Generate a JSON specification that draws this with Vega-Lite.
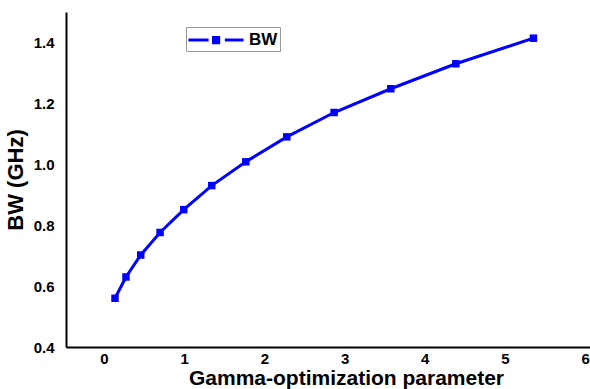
{
  "$schema": "https://vega.github.io/schema/vega-lite/v6.json",
  "width": 524,
  "height": 335,
  "autosize": {"type": "none"},
  "padding": {"left": 66, "top": 12, "right": 0, "bottom": 42},
  "background": "white",
  "config": {
    "view": {"stroke": null},
    "font": "Liberation Sans"
  },
  "data": {
    "values": [
      {"gamma": 0.137, "bw": 0.560, "series": "BW"},
      {"gamma": 0.274, "bw": 0.630, "series": "BW"},
      {"gamma": 0.458, "bw": 0.702, "series": "BW"},
      {"gamma": 0.699, "bw": 0.776, "series": "BW"},
      {"gamma": 0.994, "bw": 0.851, "series": "BW"},
      {"gamma": 1.343, "bw": 0.930, "series": "BW"},
      {"gamma": 1.768, "bw": 1.008, "series": "BW"},
      {"gamma": 2.279, "bw": 1.090, "series": "BW"},
      {"gamma": 2.869, "bw": 1.170, "series": "BW"},
      {"gamma": 3.576, "bw": 1.248, "series": "BW"},
      {"gamma": 4.387, "bw": 1.330, "series": "BW"},
      {"gamma": 5.355, "bw": 1.414, "series": "BW"}
    ]
  },
  "encoding": {
    "x": {
      "field": "gamma",
      "type": "quantitative",
      "scale": {"domain": [-0.474, 6.06], "nice": false, "zero": false},
      "axis": {
        "title": "Gamma-optimization parameter",
        "values": [0, 1, 2, 3, 4, 5, 6],
        "grid": false,
        "ticks": false,
        "domainColor": "#000000",
        "domainWidth": 2,
        "labelFont": "Liberation Sans",
        "labelFontWeight": "bold",
        "labelFontSize": 15,
        "labelColor": "#000000",
        "labelPadding": 4,
        "labelFlush": false,
        "titleFont": "Liberation Sans",
        "titleFontWeight": "bold",
        "titleFontSize": 21,
        "titleColor": "#000000",
        "titleAnchor": "middle",
        "titleX": 280,
        "titleY": 37,
        "titleBaseline": "alphabetic"
      }
    },
    "y": {
      "field": "bw",
      "type": "quantitative",
      "scale": {"domain": [0.4, 1.5], "nice": false, "zero": false},
      "axis": {
        "title": "BW (GHz)",
        "values": [0.4, 0.6, 0.8, 1.0, 1.2, 1.4],
        "format": ".1f",
        "grid": false,
        "ticks": false,
        "domainColor": "#000000",
        "domainWidth": 2,
        "labelFont": "Liberation Sans",
        "labelFontWeight": "bold",
        "labelFontSize": 15,
        "labelColor": "#000000",
        "labelPadding": 12,
        "labelFlush": false,
        "titleFont": "Liberation Sans",
        "titleFontWeight": "bold",
        "titleFontSize": 22,
        "titleColor": "#000000",
        "titlePadding": 6
      }
    },
    "color": {
      "field": "series",
      "type": "nominal",
      "scale": {"range": ["#0000ff"]},
      "legend": {
        "title": null,
        "orient": "none",
        "legendX": 120,
        "legendY": 15,
        "strokeColor": "#999999",
        "fillColor": "white",
        "padding": 2,
        "symbolSize": 361,
        "symbolOffset": 17,
        "symbolType": "M-2.9,0H-0.78M0.93,0H2.9M-0.26,-0.26H0.28V0.28H-0.26Z",
        "symbolStrokeWidth": 3,
        "labelFont": "Liberation Sans",
        "labelFontWeight": "bold",
        "labelFontSize": 17,
        "labelColor": "#000000",
        "labelOffset": 22,
        "encode": {
          "symbols": {
            "update": {
              "fill": {"value": "#0000ff"},
              "stroke": {"value": "#0000ff"},
              "strokeWidth": {"value": 3},
              "shape": {"value": "M-2.9,0H-0.78M0.93,0H2.9M-0.26,-0.26H0.28V0.28H-0.26Z"},
              "size": {"value": 361},
              "opacity": {"value": 1}
            }
          }
        }
      }
    }
  },
  "layer": [
    {"mark": {"type": "line", "strokeWidth": 3}},
    {"mark": {"type": "point", "shape": "square", "filled": true, "size": 56, "opacity": 1}}
  ]
}
